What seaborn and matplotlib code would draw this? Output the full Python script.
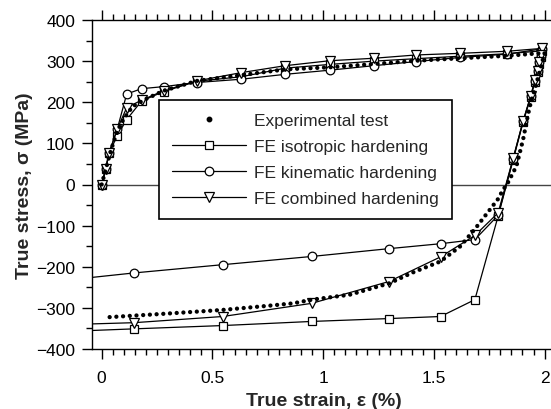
import numpy as np
import pandas as pd
import matplotlib
matplotlib.use("Agg")
import matplotlib.pyplot as plt
from matplotlib.lines import Line2D
from matplotlib.ticker import MultipleLocator
import seaborn as sns

# ---------------- data ----------------
exp_x = [0, 0.02, 0.04, 0.07, 0.10, 0.14, 0.20, 0.28, 0.43, 0.63, 0.83, 1.03, 1.23,
         1.42, 1.62, 1.83, 2.00,
         1.99, 1.975, 1.96, 1.94, 1.925, 1.903, 1.873, 1.83, 1.813, 1.79, 1.753, 1.69,
         1.62, 1.53, 1.40, 1.30, 1.12, 0.95, 0.864, 0.75, 0.546, 0.263, 0.02]
exp_y = [0, 40, 80, 130, 160, 190, 208, 228, 252, 266, 280, 285, 293,
         301, 307, 313, 320,
         300, 270, 240, 205, 170, 110, 45, 0, -12, -35, -61, -105,
         -150, -187, -215, -240, -268, -280, -289, -295, -305, -315, -323]

fe_x = [0, 0.018, 0.033, 0.07, 0.113, 0.18, 0.28, 0.43, 0.63, 0.83, 1.03, 1.23, 1.42,
        1.62, 1.83, 1.99,
        1.982, 1.976, 1.968, 1.956, 1.937, 1.903, 1.858, 1.79, 1.685, 1.53, 1.297,
        0.948, 0.546, 0.147, -0.045]

iso_y = [0, 37, 76, 118, 158, 203, 226, 251, 262, 283, 292, 300, 306,
         312, 318, 325,
         310, 294, 274, 250, 212, 152, 60, -77, -280, -321, -326,
         -333, -343, -351, -355]
kin_y = [0, 37, 76, 134, 220, 233, 238, 248, 256, 268, 278, 289, 299,
         309, 317, 330,
         313, 297, 276, 252, 214, 154, 63, -75, -134, -144, -156,
         -175, -195, -215, -226]
com_y = [0, 37, 76, 134, 187, 205, 228, 252, 272, 289, 301, 307, 315,
         319, 324, 331,
         314, 298, 277, 253, 215, 155, 64, -69, -124, -176, -236,
         -289, -321, -336, -339]

labels = ["Experimental test", "FE isotropic hardening",
          "FE kinematic hardening", "FE combined hardening"]

# ---------------- style ----------------
sns.set_theme(style="ticks")
plt.rcParams["font.family"] = ["Liberation Sans", "DejaVu Sans"]
plt.rcParams["axes.unicode_minus"] = True
FS = 12.5
LFS = 14

fig = plt.figure(figsize=(5.51, 4.10), dpi=100)
ax = fig.add_axes([91.7 / 551, 60 / 410, 464 / 551, 329 / 410])

# zero line
ax.plot([0, 2.2], [0, 0], color="#444444", lw=1.0, zorder=1)

# experimental (dense dots)
sns.lineplot(x=exp_x, y=exp_y, sort=False, estimator=None, ax=ax, color="black",
             lw=3.1, linestyle=(0, (0.01, 1.55)), dash_capstyle="round", zorder=4)

common = dict(sort=False, estimator=None, ax=ax, color="black", lw=0.9,
              markerfacecolor="white", markeredgecolor="black",
              markeredgewidth=0.9, markevery=list(range(len(fe_x) - 1)))
sns.lineplot(x=fe_x, y=iso_y, marker="s", markersize=5.5, zorder=3, **common)
sns.lineplot(x=fe_x, y=kin_y, marker="o", markersize=6.2, zorder=3, **common)
sns.lineplot(x=fe_x, y=com_y, marker="v", markersize=6.5, zorder=3, **common)

ax.set_xlim(-0.045, 2.05)
ax.set_ylim(-400, 400)
ax.xaxis.set_major_locator(MultipleLocator(0.5))
ax.xaxis.set_minor_locator(MultipleLocator(0.05))
ax.yaxis.set_major_locator(MultipleLocator(100))
ax.yaxis.set_minor_locator(MultipleLocator(50))
ax.set_xticks([0, 0.5, 1, 1.5, 2])
ax.set_xticklabels(["0", "0.5", "1", "1.5", "2"])

for s in ["left", "bottom", "top"]:
    ax.spines[s].set_visible(True)
    ax.spines[s].set_linewidth(1.0)
    ax.spines[s].set_color("black")
ax.spines["right"].set_visible(False)

ax.tick_params(axis="both", which="both", direction="out", colors="black",
               labelsize=FS, width=1.0)
ax.tick_params(axis="x", which="both", top=True, bottom=True, labeltop=False)
ax.tick_params(axis="y", which="both", left=True, right=False)
ax.tick_params(which="major", length=7)
ax.tick_params(which="minor", length=4)
ax.tick_params(axis="x", which="major", pad=8)
ax.tick_params(axis="y", which="major", pad=5)

ax.set_xlabel("True strain, ε (%)", fontsize=LFS, fontweight="bold", labelpad=5)
ax.set_ylabel("True stress, σ (MPa)", fontsize=LFS, fontweight="bold", labelpad=2)

handles = [
    Line2D([], [], ls="none", marker="o", markersize=3.2, color="black"),
    Line2D([], [], color="black", lw=0.9, marker="s", markersize=5.5,
           markerfacecolor="white", markeredgecolor="black", markeredgewidth=0.9),
    Line2D([], [], color="black", lw=0.9, marker="o", markersize=6.2,
           markerfacecolor="white", markeredgecolor="black", markeredgewidth=0.9),
    Line2D([], [], color="black", lw=0.9, marker="v", markersize=6.5,
           markerfacecolor="white", markeredgecolor="black", markeredgewidth=0.9),
]
leg = ax.legend(handles, labels, loc="upper left",
                bbox_to_anchor=(159 / 551, 1 - 101 / 410),
                bbox_transform=fig.transFigure, borderaxespad=0,
                fontsize=FS, frameon=True, fancybox=False, shadow=False,
                handlelength=4.25, handletextpad=0.5, labelspacing=0.63,
                borderpad=0.75, numpoints=1)
leg.get_frame().set_edgecolor("black")
leg.get_frame().set_linewidth(1.2)
leg.get_frame().set_facecolor("white")
leg.get_frame().set_alpha(1)
leg.set_zorder(10)

fig.savefig("out.png", dpi=100)
